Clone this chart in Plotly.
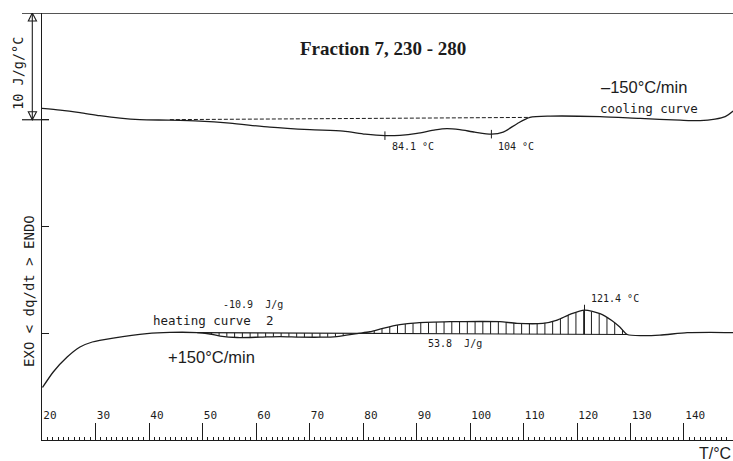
import numpy as np
import plotly.graph_objects as go

# ---- DSC data: temperature (°C) vs heat flow (J/g/°C) ----
# cooling run (-150 °C/min), plotted with a +20 offset
cool_T = [20.0, 23.4, 27.1, 30.8, 34.6, 38.3, 43.9, 49.5, 55.1, 62.6, 70.1, 76.3,
          80.4, 84.1, 86.9, 90.1, 93.5, 95.7, 98.1, 100.9, 104.0, 106.2, 108.8,
          111.2, 115.0, 124.3, 131.8, 139.3, 143.0, 145.8, 147.7, 149.2]
cool_Y = [21.06, 20.90, 20.66, 20.38, 20.15, 20.01, 19.96, 19.87, 19.68, 19.31, 19.07, 18.93,
          18.65, 18.51, 18.54, 18.72, 19.05, 19.17, 19.07, 18.84, 18.65, 18.84, 19.63,
          20.22, 20.34, 20.29, 20.12, 19.96, 19.92, 20.06, 20.29, 20.81]
cool_base_T = [43.9, 111.2]
cool_base_Y = [20.01, 20.22]

# heating run 2 (+150 °C/min)
heat_T = [20.1, 22.1, 24.7, 27.1, 29.4, 33.3, 39.6, 43.9, 49.0, 51.4, 53.3, 56.5,
          60.8, 64.5, 68.2, 72.0, 75.1, 78.9, 81.3, 83.7, 86.9, 90.1, 96.3, 101.9,
          105.6, 108.8, 113.6, 116.3, 118.7, 121.4, 124.3, 126.5, 128.0, 129.4,
          132.3, 135.5, 140.6, 144.9, 149.2]
heat_Y = [-5.08, -3.63, -2.23, -1.29, -0.82, -0.45, -0.03, 0.08, 0.06, -0.07, -0.26, -0.40,
          -0.36, -0.31, -0.36, -0.37, -0.31, -0.03, 0.14, 0.46, 0.81, 0.98, 1.08, 1.10,
          1.08, 0.93, 0.93, 1.24, 1.77, 2.17, 1.84, 1.19, 0.58, -0.12,
          -0.22, -0.17, 0.05, 0.08, 0.05]
heat_limits = [49.0, 129.4]          # integration limits

cool_peaks = [84.1, 104.0]
heat_peak = 121.4
heat_areas = [-10.9, 53.8]

x_ticks = list(range(20, 150, 10))
x_ticklabels = [str(v) for v in x_ticks]
y_ticks = [0, 10, 20]

INK = "#1c1c1c"
MONO = "DejaVu Sans Mono"
SANS = "Liberation Sans, Arial"
SERIF = "Liberation Serif, Times New Roman"

fig = go.Figure()

# cooling curve + its interpolated baseline
fig.add_trace(go.Scatter(x=cool_T, y=cool_Y, mode="lines",
                         line=dict(color=INK, width=1.3, shape="spline", smoothing=0.7),
                         hoverinfo="skip"))
fig.add_trace(go.Scatter(x=cool_base_T, y=cool_base_Y, mode="lines",
                         line=dict(color=INK, width=1, dash="4px,2px"), hoverinfo="skip"))

# peak markers on the cooling curve
seg_x, seg_y = [], []
for tp in cool_peaks:
    yc = float(np.interp(tp, cool_T, cool_Y))
    seg_x += [tp, tp, None]
    seg_y += [yc - 0.4, yc + 0.4, None]

# heating baseline and hatched integration area
hT = np.array(heat_T)
hY = np.array(heat_Y)
b0 = float(np.interp(heat_limits[0], hT, hY))
b1 = float(np.interp(heat_limits[1], hT, hY))

def base(t):
    return b0 + (b1 - b0) * (t - heat_limits[0]) / (heat_limits[1] - heat_limits[0])

hatch_x, hatch_y = [], []
for t in np.arange(heat_limits[0] + 1.2, heat_limits[1], 1.45):
    hatch_x += [t, t, None]
    hatch_y += [base(t), float(np.interp(t, hT, hY)), None]

fig.add_trace(go.Scatter(x=hatch_x, y=hatch_y, mode="lines",
                         line=dict(color=INK, width=1), hoverinfo="skip"))
fig.add_trace(go.Scatter(x=heat_limits, y=[b0, b1], mode="lines",
                         line=dict(color=INK, width=1.1), hoverinfo="skip"))

# peak marker on the heating curve
yp = float(np.interp(heat_peak, hT, hY))
seg_x += [heat_peak, heat_peak, None]
seg_y += [base(heat_peak), yp + 0.5, None]
fig.add_trace(go.Scatter(x=seg_x, y=seg_y, mode="lines",
                         line=dict(color=INK, width=1), hoverinfo="skip"))

fig.add_trace(go.Scatter(x=heat_T, y=heat_Y, mode="lines",
                         line=dict(color=INK, width=1.3, shape="spline", smoothing=0.7),
                         hoverinfo="skip"))

# ---- text ----
def note(x, y, text, font, size, xanchor="left", bold=False, **kw):
    fig.add_annotation(x=x, y=y, text=f"<b>{text}</b>" if bold else text,
                       showarrow=False, xanchor=xanchor, yanchor="middle",
                       font=dict(family=font, size=size, color=INK), **kw)

note(83.7, 26.72, "Fraction 7, 230 - 280", SERIF, 19, xanchor="center", bold=True)
note(124.1, 23.1, "\u2013150\u00b0C/min", SANS, 16.5)
note(123.9, 21.07, "cooling curve", MONO, 12.5)
note(cool_peaks[0] + 0.9, 17.54, f"{cool_peaks[0]:.1f} \u00b0C", MONO, 10)
note(cool_peaks[1] + 0.9, 17.54, f"{cool_peaks[1]:.0f} \u00b0C", MONO, 10)
note(53.4, 2.65, f"{heat_areas[0]:.1f}  J/g", MONO, 10)
note(40.4, 1.18, "heating curve  2", MONO, 12.5)
note(91.8, -0.94, f"{heat_areas[1]:.1f}  J/g", MONO, 10)
note(heat_peak + 0.8, 3.27, f"{heat_peak:.1f} \u00b0C", MONO, 10)
note(43.2, -2.2, "+150\u00b0C/min", SANS, 16.5)

W, PL = 691.0, 42.0          # plot width and left margin in px
def px(xpix):
    return (xpix - PL) / W

note(px(29), 3.96, "EXO &lt; dq/dt &gt; ENDO", MONO, 14, xanchor="center",
     xref="paper", textangle=-90)
note(px(18), 24.4, "10 J/g/\u00b0C", MONO, 13.5, xanchor="center",
     xref="paper", textangle=-90)
note(1, -0.031, "T/\u00b0C", SANS, 16, xanchor="right", xref="paper", yref="paper")

# ---- frame: top border, scale bar with hollow arrowheads ----
LW = 1.4
fig.add_shape(type="line", xref="paper", yref="y", x0=px(22), x1=1, y0=30, y1=30,
              line=dict(color=INK, width=LW))
fig.add_shape(type="line", xref="paper", yref="y", x0=px(22), x1=px(49), y0=20, y1=20,
              line=dict(color=INK, width=1.2))
fig.add_shape(type="line", xref="paper", yref="y", x0=px(32.3), x1=px(32.3), y0=20, y1=30,
              line=dict(color=INK, width=1.1))
ah = 8 / 10.675
for tip, sgn in ((30, -1), (20, 1)):
    fig.add_shape(type="path", xref="paper", yref="y",
                  path=f"M {px(32.3)},{tip} L {px(28.3)},{tip + sgn * ah} "
                       f"L {px(36.5)},{tip + sgn * ah} Z",
                  line=dict(color=INK, width=1.1), fillcolor="rgba(0,0,0,0)")

fig.update_layout(
    width=733, height=461,
    margin=dict(l=42, r=0, t=13, b=21),
    paper_bgcolor="white", plot_bgcolor="white",
    showlegend=False,
    xaxis=dict(range=[20, 149.16], tickvals=x_ticks, ticktext=x_ticklabels,
               ticks="inside", ticklen=17, tickwidth=1.3, tickcolor=INK,
               ticklabelposition="inside right", ticklabelstandoff=15,
               tickfont=dict(family=MONO, size=11, color=INK),
               showline=True, linecolor=INK, linewidth=LW,
               showgrid=False, zeroline=False,
               minor=dict(ticks="inside", ticklen=3, tickwidth=1, tickcolor=INK,
                          dtick=1, tick0=20, showgrid=False)),
    yaxis=dict(range=[-10, 30], tickvals=y_ticks, ticks="inside", ticklen=7,
               tickwidth=1.2, tickcolor=INK, showticklabels=False,
               showline=True, linecolor=INK, linewidth=LW,
               showgrid=False, zeroline=False),
)

fig.write_html("out.html")
